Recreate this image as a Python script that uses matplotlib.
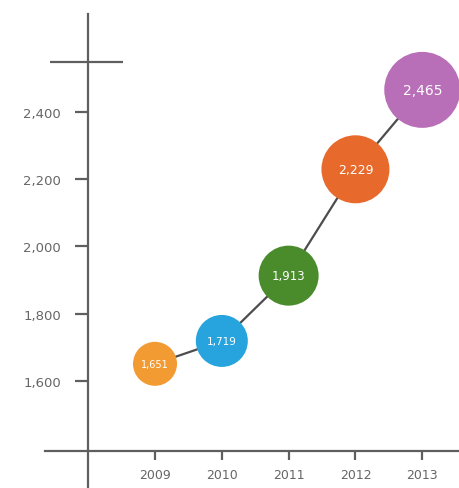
import matplotlib.pyplot as plt

# data
years = [2009, 2010, 2011, 2012, 2013]
values = [1651, 1719, 1913, 2229, 2465]
labels = ["1,651", "1,719", "1,913", "2,229", "2,465"]
y_ticks = [1600, 1800, 2000, 2200, 2400]

colors = ["#F39B33", "#27A4DD", "#4A8B2C", "#E8692C", "#B86FB8"]
label_sizes = [7.0, 7.5, 8.5, 9.0, 10.0]
axis_color = "#5f5f5f"
font = "DejaVu Sans"

fig = plt.figure(figsize=(4.59, 4.89), dpi=100)
ax = fig.add_axes([0, 0, 1, 1])
ax.set_xlim(2006.68, 2013.55)
ax.set_ylim(1282, 2735)

# axes drawn as crossing lines
for side in ["top", "right"]:
    ax.spines[side].set_visible(False)
ax.spines["left"].set_position(("data", 2008))
ax.spines["left"].set_bounds(1282, 2690)
ax.spines["bottom"].set_position(("data", 1392))
ax.spines["bottom"].set_bounds(2007.35, 2013.55)
for side in ["left", "bottom"]:
    ax.spines[side].set_color(axis_color)
    ax.spines[side].set_linewidth(1.6)

# short bar across the top of the y axis
ax.hlines(2549, 2007.43, 2008.52, color=axis_color, linewidth=1.6)

ax.set_yticks(y_ticks)
ax.set_yticklabels([f"{v:,}" for v in y_ticks])
ax.set_xticks(years)
ax.set_xticklabels([str(y) for y in years])
ax.tick_params(axis="y", direction="out", length=9.5, width=1.6,
               color=axis_color, labelcolor="#666666", labelsize=9.5, pad=10)
ax.tick_params(axis="x", direction="out", length=6.5, width=1.6,
               color=axis_color, labelcolor="#666666", labelsize=9, pad=6)
for lab in ax.get_xticklabels() + ax.get_yticklabels():
    lab.set_fontfamily(font)

# connecting line behind the bubbles
ax.plot(years, values, color="#4d4d4d", linewidth=1.6, zorder=2)

# bubbles grow with each year
for i, (x, v, lab, c) in enumerate(zip(years, values, labels, colors)):
    r_px = 22 + 4 * i
    s = (2 * r_px * 0.72) ** 2
    ax.scatter([x], [v], s=s, color=c, edgecolors="none", zorder=3)
    ax.text(x, v, lab, color="white", ha="center", va="center",
            fontsize=label_sizes[i], family=font, zorder=4)

fig.savefig("out.png", dpi=100, facecolor="white")
